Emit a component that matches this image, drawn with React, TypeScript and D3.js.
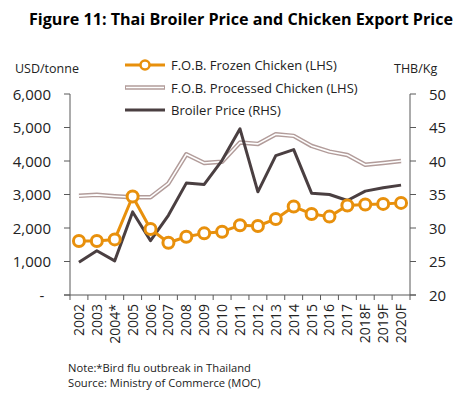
import React from "react";
import { scaleLinear, scaleBand, line } from "d3";

const years = ["2002", "2003", "2004*", "2005", "2006", "2007", "2008", "2009", "2010", "2011", "2012", "2013", "2014", "2015", "2016", "2017", "2018F", "2019F", "2020F"];
const frozen = [1610, 1610, 1660, 2940, 1970, 1560, 1740, 1840, 1890, 2080, 2060, 2270, 2640, 2420, 2340, 2670, 2700, 2720, 2750];
const processed = [2960, 2990, 2950, 2920, 2920, 3330, 4200, 3940, 3980, 4550, 4510, 4800, 4750, 4450, 4280, 4180, 3890, 3940, 4000];
const broiler = [24.9, 26.6, 25.1, 32.4, 28.1, 31.9, 36.7, 36.5, 40.1, 44.8, 35.4, 40.8, 41.7, 35.2, 35.0, 34.1, 35.5, 36.0, 36.4];
const leftTicks = [0, 1000, 2000, 3000, 4000, 5000, 6000];
const rightTicks = [20, 25, 30, 35, 40, 45, 50];

const W = 459, H = 398;
const x0 = 70, x1 = 410, yTop = 94, yBot = 295;
const font = "'Open Sans', sans-serif";
const orange = "#E8900C";
const dark = "#4A3F41";
const rose = "#B29C9A";
const axisCol = "#595959";

export default function App() {
  const x = scaleBand<string>().domain(years).range([x0, x1]);
  const yL = scaleLinear().domain([0, 6000]).range([yBot, yTop]);
  const yR = scaleLinear().domain([20, 50]).range([yBot, yTop]);
  const cx = (i: number) => (x(years[i]) as number) + x.bandwidth() / 2;
  const lineL = line<number>().x((_, i) => cx(i)).y(d => yL(d));
  const lineR = line<number>().x((_, i) => cx(i)).y(d => yR(d));

  const legend = [
    { label: "F.O.B. Frozen Chicken (LHS)", kind: "frozen" },
    { label: "F.O.B. Processed Chicken (LHS)", kind: "processed" },
    { label: "Broiler Price (RHS)", kind: "broiler" },
  ];

  return (
    <svg width={W} height={H} style={{ position: "absolute", left: 0, top: 0 }} fontFamily={font}>
      <rect width={W} height={H} fill="#fff" />
      <text x={241} y={25} textAnchor="middle" fontWeight="bold" fontSize={15.5} textLength={424} lengthAdjust="spacingAndGlyphs" fill="#000">
        Figure 11: Thai Broiler Price and Chicken Export Price
      </text>
      <text x={15} y={73} fontSize={12.5} fill="#222">USD/tonne</text>
      <text x={394} y={73} fontSize={12.5} fill="#222">THB/Kg</text>

      {/* axes */}
      <line x1={x0} x2={x0} y1={yTop} y2={yBot} stroke={axisCol} />
      <line x1={x1} x2={x1} y1={yTop} y2={yBot} stroke={axisCol} />
      <line x1={x0 - 6} x2={x1 + 6} y1={yBot} y2={yBot} stroke={axisCol} />
      {leftTicks.map(t => (
        <g key={"l" + t}>
          <line x1={x0 - 6} x2={x0} y1={yL(t)} y2={yL(t)} stroke={axisCol} />
          <text x={t === 0 ? 42 : 51} y={yL(t) + 5.5} textAnchor={t === 0 ? "middle" : "end"} fontSize={15} fill="#222">
            {t === 0 ? "-" : t.toLocaleString("en-US")}
          </text>
        </g>
      ))}
      {rightTicks.map(t => (
        <g key={"r" + t}>
          <line x1={x1} x2={x1 + 6} y1={yR(t)} y2={yR(t)} stroke={axisCol} />
          <text x={429} y={yR(t) + 5.5} fontSize={15} fill="#222">{t}</text>
        </g>
      ))}
      {years.map((yr, i) => (
        <g key={yr}>
          <line x1={x(yr) as number} x2={x(yr) as number} y1={yBot} y2={yBot + 5} stroke={axisCol} />
          <text transform={`translate(${cx(i) + 5},${yBot + 9}) rotate(-90)`} textAnchor="end" fontSize={14} fill="#222">{yr}</text>
        </g>
      ))}
      <line x1={x1} x2={x1} y1={yBot} y2={yBot + 5} stroke={axisCol} />

      {/* series */}
      <path d={lineL(processed) as string} fill="none" stroke={rose} strokeWidth={4.5} strokeLinejoin="round" />
      <path d={lineL(processed) as string} fill="none" stroke="#fff" strokeWidth={1.6} strokeLinejoin="round" />
      <path d={lineR(broiler) as string} fill="none" stroke={dark} strokeWidth={3} strokeLinejoin="round" />
      <path d={lineL(frozen) as string} fill="none" stroke={orange} strokeWidth={3} strokeLinejoin="round" />
      {frozen.map((v, i) => (
        <circle key={i} cx={cx(i)} cy={yL(v)} r={5.5} fill="#fff" stroke={orange} strokeWidth={3} />
      ))}

      {/* legend */}
      {legend.map((l, i) => {
        const ly = 65 + i * 22.5;
        return (
          <g key={l.kind}>
            {l.kind === "frozen" && (
              <>
                <line x1={125} x2={165} y1={ly} y2={ly} stroke={orange} strokeWidth={3} />
                <circle cx={145} cy={ly} r={4.5} fill="#fff" stroke={orange} strokeWidth={2.5} />
              </>
            )}
            {l.kind === "processed" && (
              <>
                <line x1={125} x2={165} y1={ly} y2={ly} stroke={rose} strokeWidth={4.5} />
                <line x1={126} x2={164} y1={ly} y2={ly} stroke="#fff" strokeWidth={1.6} />
              </>
            )}
            {l.kind === "broiler" && <line x1={125} x2={165} y1={ly} y2={ly} stroke={dark} strokeWidth={3} />}
            <text x={171} y={ly + 5} fontSize={13} fill="#222">{l.label}</text>
          </g>
        );
      })}

      <text x={68} y={372} fontSize={11.2} fill="#222">Note:*Bird flu outbreak in Thailand</text>
      <text x={68} y={387} fontSize={11.2} fill="#222">Source: Ministry of Commerce (MOC)</text>
    </svg>
  );
}
